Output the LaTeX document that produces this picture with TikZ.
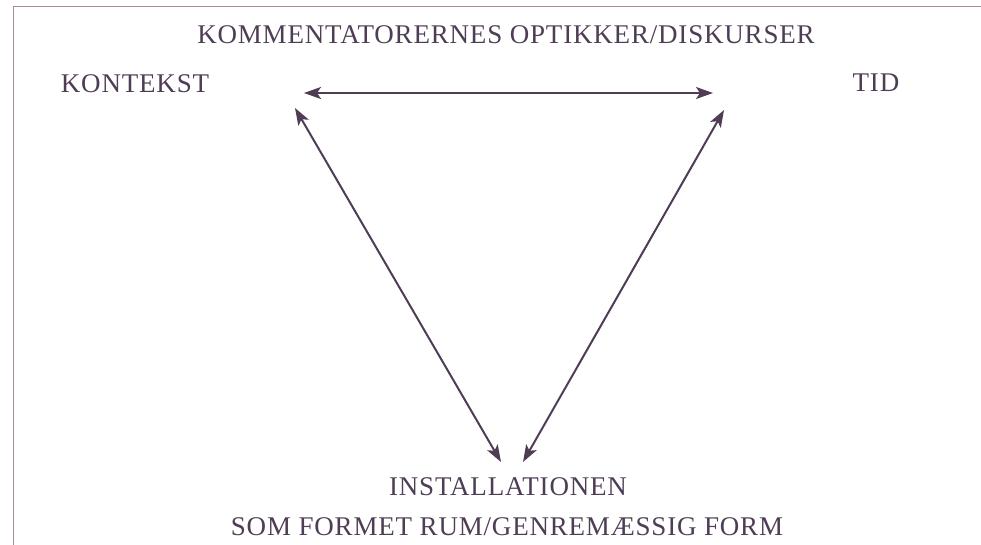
\documentclass[tikz,border=0pt]{standalone}
\usepackage{fontspec}
\setmainfont{Liberation Serif}[LetterSpace=3]
\usepackage{xcolor}
\usetikzlibrary{positioning,arrows.meta}
\definecolor{ink}{HTML}{4E3D55}
\definecolor{frame}{HTML}{A58AA0}

\begin{document}
\begin{tikzpicture}[x=1pt,y=-1pt,font=\fontsize{27}{32}\selectfont,text=ink,
  >={Stealth[length=17pt,width=12pt,inset=4pt]},
  lbl/.style={inner sep=0pt,anchor=base},
  arr/.style={<->,draw=ink,line width=2pt}]
\useasboundingbox (0,0) rectangle (981,545);
\draw[frame,line width=1pt] (13,545) -- (13,7) -- (981,7);
% labels
\node[lbl] (optik) at (506,44) {KOMMENTATORERNES OPTIKKER/DISKURSER};
\node[lbl] (kontekst) at (135,93) {KONTEKST};
\node[lbl] (tid) at (876,92) {TID};
\node[lbl] (inst) at (508,495) {INSTALLATIONEN};
\node[lbl] (form) at (507,535) {SOM FORMET RUM/GENREMÆSSIG FORM};
% triangle
\coordinate (kh) at (304,93);
\coordinate (th) at (713,93);
\coordinate (kd) at (295,108);
\coordinate (td) at (724,110);
\coordinate (il) at (501,462);
\coordinate (ir) at (523,462);
\draw[arr] (kh) -- (th);
\draw[arr] (kd) -- (il);
\draw[arr] (td) -- (ir);
\end{tikzpicture}
\end{document}
